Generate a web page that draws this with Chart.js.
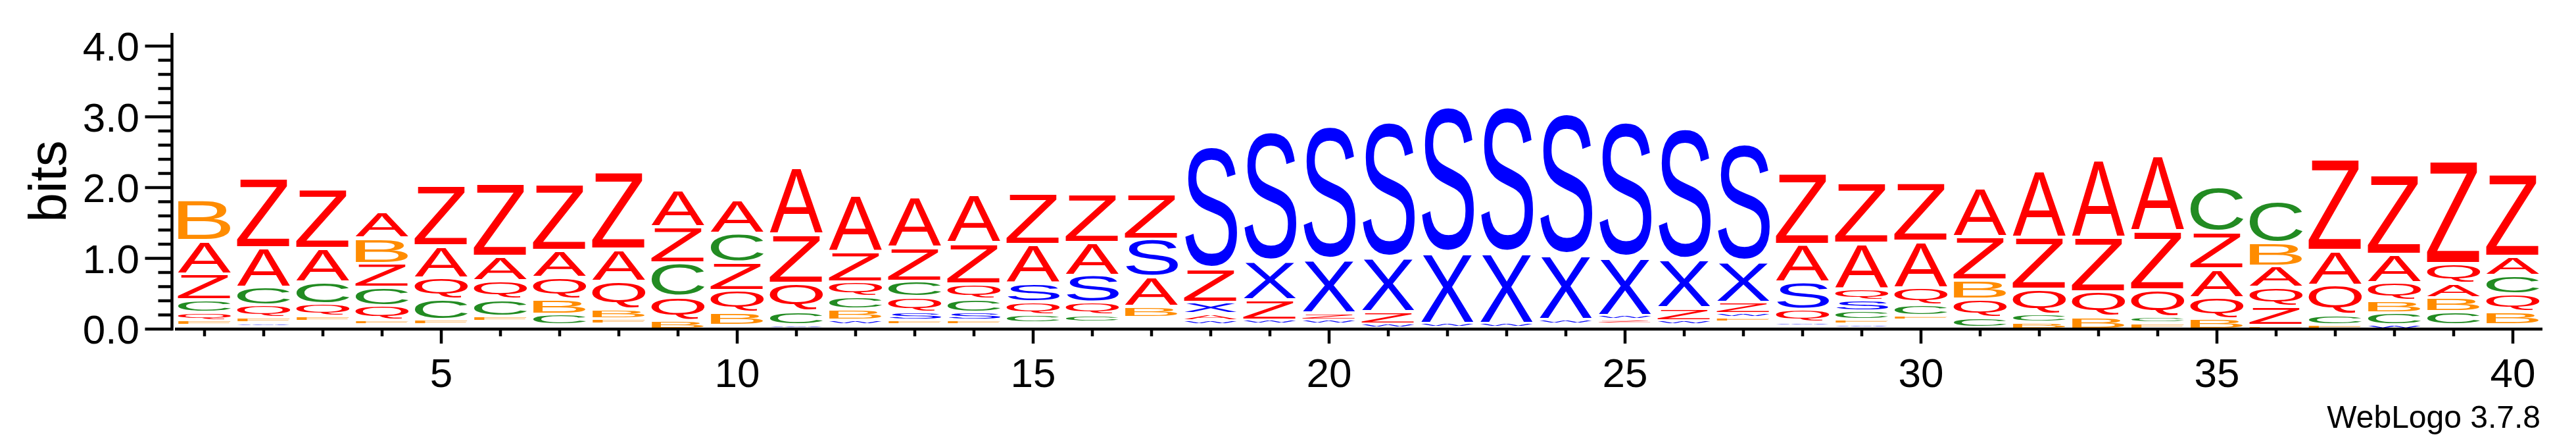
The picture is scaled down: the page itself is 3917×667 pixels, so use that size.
<!DOCTYPE html>
<html><head><meta charset="utf-8">
<script src="https://cdn.jsdelivr.net/npm/chart.js@4.4.0/dist/chart.umd.min.js"></script>
<style>html,body{margin:0;padding:0;background:#fff;}canvas{display:block;}</style>
</head><body>
<canvas id="c" width="3917" height="667" style="width:3917px;height:667px"></canvas>
<script>
// ---- data (bits per letter per position) ----
const positions = [1,2,3,4,5,6,7,8,9,10,11,12,13,14,15,16,17,18,19,20,21,22,23,24,25,26,27,28,29,30,31,32,33,34,35,36,37,38,39,40];
const A = [.468,.558,.474,.366,.456,.344,.381,.456,.521,.474,.952,.803,.716,.685,.549,.465,.421,.102,0,0,0,0,0,0,0,0,0,.536,.647,.660,.698,.945,1.113,1.075,.406,.300,.489,.400,.196,.268];
const B = [.589,0,0,.356,0,0,.210,.133,.121,.186,0,.149,0,0,0,0,.152,0,0,0,0,0,0,0,0,0,0,0,0,0,.270,.096,.177,0,.146,.331,0,.173,.193,.186];
const C = [.177,.257,.313,.263,.288,.242,.154,0,.474,.406,.186,.180,.226,.186,.108,.102,0,0,0,0,0,0,0,0,0,0,0,0,.121,.149,.142,.112,0,.090,.638,.586,.140,.170,.186,.264];
const Q = [.114,.180,.180,.207,.303,.263,.310,.396,.340,.313,.403,.210,.217,.217,.184,.180,0,0,0,0,0,0,0,0,0,0,0,.180,.160,.242,.263,.356,.350,.381,.303,.272,.424,.257,.288,.247];
const S = [0,0,0,0,0,0,0,0,0,0,0,0,.108,.108,.268,.381,.536,1.724,1.838,1.891,1.922,2.068,2.068,2.003,1.922,1.857,1.661,.387,.150,0,0,0,0,0,0,0,0,0,0,0];
const X = [0,0,0,0,0,0,0,0,0,0,0,0,0,0,0,0,0,.158,.549,.753,.768,1.001,1.001,.917,.821,.685,.573,0,0,0,0,0,0,0,0,0,0,0,0,0];
const Z = [.368,1.001,.847,.338,.868,1.045,.952,1.113,.514,.400,.698,.428,.480,.580,.735,.691,.642,.474,.282,.102,.173,0,0,0,.059,.177,.158,1.023,.871,.837,.617,.738,.778,.837,.527,.270,1.312,1.138,1.479,1.178];
const F = [.070,.070,.070,.065,.070,.070,0,.070,0,0,0,0,.065,.065,0,0,0,0,0,0,0,0,0,0,0,0,.060,0,.065,.065,0,0,0,.087,0,.053,.062,0,0,0];
const W = [0,.050,0,0,0,0,.045,0,0,0,.055,.065,0,0,0,0,0,.060,.060,.060,.060,.060,.060,.060,.060,.060,.060,.050,.050,0,0,0,0,0,0,0,0,.062,0,0];
const other = [.054,.040,.110,.060,.066,.113,.017,.076,0,.050,.007,.066,.066,.066,.093,.099,.168,.064,.071,.071,.015,.024,.024,.076,.076,.064,.104,.049,.021,.127,.022,0,0,0,0,0,0,0,.062,.062];
const yTickLabels = ['0.0','1.0','2.0','3.0','4.0'];
const xTickLabels = [5,10,15,20,25,30,35,40];
const yTitle = 'bits';
const footer = 'WebLogo 3.7.8';

const COLORS = {A:'#ff0000', Z:'#ff0000', Q:'#ff0000', B:'#ff8c00', F:'#ff8c00', C:'#228b22', S:'#0000ff', X:'#0000ff', W:'#0000ff'};
const FONT = '"Liberation Sans", Arial, Helvetica, sans-serif';

const letterSeries = {A, B, C, Q, S, X, Z, F, W};
const stacks = positions.map((p, i) => {
  const items = Object.keys(letterSeries)
    .map(k => ({k, v: letterSeries[k][i]}))
    .filter(o => o.v > 0)
    .sort((a, b) => a.v - b.v);
  if (other[i] > 0) items.unshift({k: '', v: other[i]});
  return items;
});
const nLayers = Math.max(...stacks.map(s => s.length));
const datasets = [];
for (let L = 0; L < nLayers; L++) {
  datasets.push({
    data: stacks.map(s => s[L] ? s[L].v : 0),
    letters: stacks.map(s => s[L] ? s[L].k : ''),
    backgroundColor: 'rgba(0,0,0,0)',
    borderWidth: 0,
    barPercentage: 0.9,
    categoryPercentage: 1.0,
    stack: 'logo'
  });
}

const glyphCache = {};
function glyphMetrics(ctx, ch) {
  if (!glyphCache[ch]) {
    ctx.save();
    ctx.font = '400px ' + FONT;
    const m = ctx.measureText(ch);
    glyphCache[ch] = {l: m.actualBoundingBoxLeft, r: m.actualBoundingBoxRight, a: m.actualBoundingBoxAscent, d: m.actualBoundingBoxDescent};
    ctx.restore();
  }
  return glyphCache[ch];
}
function drawGlyph(ctx, ch, color, cx, top, bottom, w) {
  const gap = 2.15;
  const t = top + gap, b = bottom - gap;
  const h = b - t;
  if (h < 0.6) return;
  const g = glyphMetrics(ctx, ch);
  const gw = g.l + g.r, gh = g.a + g.d;
  ctx.save();
  ctx.translate(cx - w / 2, t);
  ctx.scale(w / gw, h / gh);
  ctx.font = '400px ' + FONT;
  ctx.textAlign = 'left';
  ctx.textBaseline = 'alphabetic';
  ctx.fillStyle = color;
  ctx.fillText(ch, g.l, g.a);
  ctx.restore();
}

const logoPlugin = {
  id: 'logo',
  afterDatasetsDraw(chart) {
    const ctx = chart.ctx;
    chart.data.datasets.forEach((ds, d) => {
      const meta = chart.getDatasetMeta(d);
      meta.data.forEach((el, i) => {
        const ch = ds.letters[i];
        if (!ch) return;
        const p = el.getProps(['x', 'y', 'base', 'width'], true);
        drawGlyph(ctx, ch, COLORS[ch], p.x, Math.min(p.y, p.base), Math.max(p.y, p.base), p.width);
      });
    });
  },
  afterDraw(chart) {
    const ctx = chart.ctx;
    const xs = chart.scales.x, ys = chart.scales.y;
    const area = chart.chartArea;
    ctx.save();
    ctx.fillStyle = '#000';
    ctx.strokeStyle = '#000';
    const lw = 4.5;
    // y axis
    const yAxisX = area.left - 4.5;
    const y0 = ys.getPixelForValue(0), y4 = ys.getPixelForValue(4);
    ctx.lineWidth = lw;
    ctx.beginPath(); ctx.moveTo(yAxisX, y4 - 20); ctx.lineTo(yAxisX, y0 + 2.2); ctx.stroke();
    for (let k = 0; k <= 20; k++) {
      const v = k * 0.2;
      const py = ys.getPixelForValue(v);
      const len = (k % 5 === 0) ? 41 : 21;
      ctx.beginPath(); ctx.moveTo(yAxisX - len, py); ctx.lineTo(yAxisX, py); ctx.stroke();
    }
    ctx.font = '62px ' + FONT;
    ctx.textAlign = 'right';
    ctx.textBaseline = 'alphabetic';
    yTickLabels.forEach((lab, k) => {
      const py = ys.getPixelForValue(k);
      ctx.fillText(lab, 212, py + 22);
    });
    // x axis
    ctx.beginPath(); ctx.moveTo(area.left, y0); ctx.lineTo(area.right, y0); ctx.stroke();
    positions.forEach((p, i) => {
      const px = xs.getPixelForValue(i);
      const major = xTickLabels.includes(p);
      ctx.beginPath(); ctx.moveTo(px, y0); ctx.lineTo(px, y0 + (major ? 22 : 11)); ctx.stroke();
    });
    ctx.textAlign = 'center';
    xTickLabels.forEach(p => {
      const px = xs.getPixelForValue(positions.indexOf(p));
      ctx.fillText(String(p), px, 588);
    });
    // y title
    ctx.save();
    ctx.translate(100, 275.5);
    ctx.rotate(-Math.PI / 2);
    ctx.font = '80px ' + FONT;
    ctx.textAlign = 'center';
    ctx.fillText(yTitle, 0, 0);
    ctx.restore();
    // footer
    ctx.font = '48px ' + FONT;
    ctx.textAlign = 'right';
    ctx.fillText(footer, 3863, 650);
    ctx.restore();
  }
};

new Chart(document.getElementById('c'), {
  type: 'bar',
  data: {labels: positions.map(String), datasets},
  options: {
    responsive: false,
    devicePixelRatio: 1,
    animation: false,
    events: [],
    layout: {padding: {left: 266, right: 51, top: 70, bottom: 167}},
    plugins: {legend: {display: false}, tooltip: {enabled: false}},
    scales: {
      x: {display: false, stacked: true, offset: true},
      y: {display: false, stacked: true, min: 0, max: 4}
    }
  },
  plugins: [logoPlugin]
});
</script>
</body></html>
